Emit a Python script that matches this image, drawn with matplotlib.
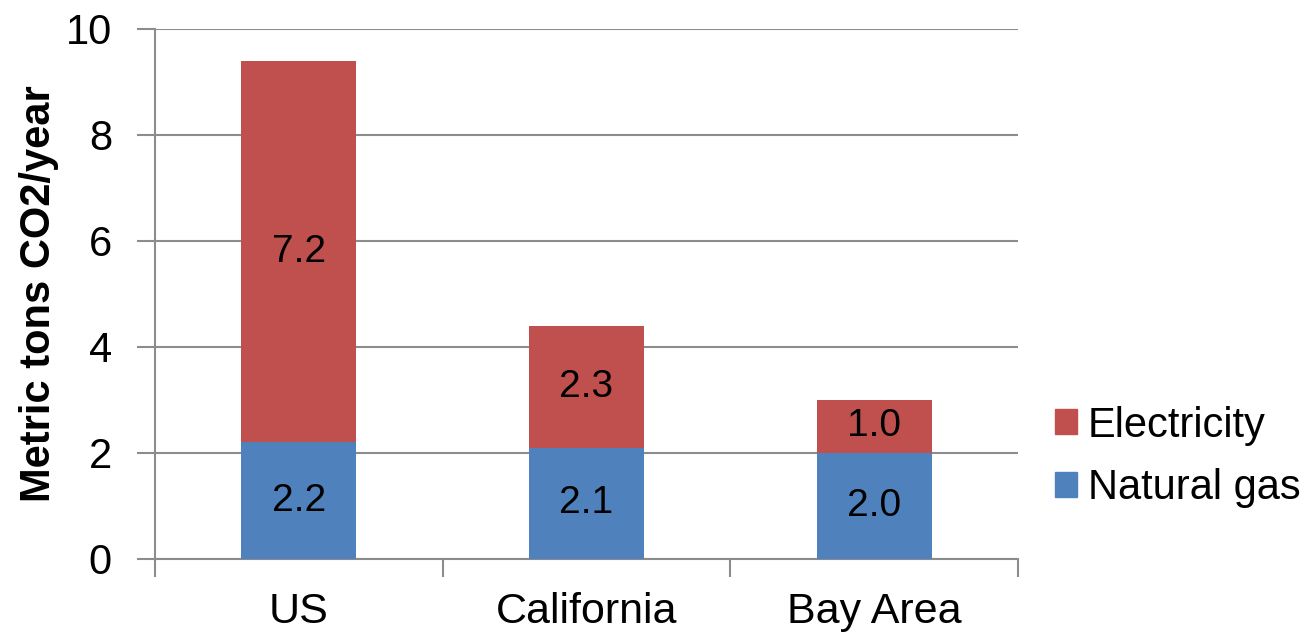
import matplotlib
matplotlib.use("Agg")
import matplotlib.pyplot as plt
from matplotlib.patches import Patch

plt.rcParams["font.family"] = ["Liberation Sans", "DejaVu Sans"]

# data
regions = ["US", "California", "Bay Area"]
natural_gas = [2.2, 2.1, 2.0]
electricity = [7.2, 2.3, 1.0]
gas_labels = ["2.2", "2.1", "2.0"]
elec_labels = ["7.2", "2.3", "1.0"]

blue = "#4F81BD"
red = "#C0504D"
grid_gray = "#8C8C8C"

fig = plt.figure(figsize=(13.16, 6.35), dpi=100)
ax = fig.add_axes([155 / 1316, 1 - 559 / 635, (1018 - 155) / 1316, (559 - 29) / 635])

x = list(range(len(regions)))
ax.bar(x, natural_gas, width=0.4, color=blue, zorder=3)
ax.bar(x, electricity, width=0.4, bottom=natural_gas, color=red, zorder=3)

for i in x:
    ax.text(i, natural_gas[i] / 2, gas_labels[i], ha="center", va="center",
            fontsize=28, zorder=4)
    ax.text(i, natural_gas[i] + electricity[i] / 2, elec_labels[i],
            ha="center", va="center", fontsize=28, zorder=4)

ax.set_xlim(-0.5, 2.5)
ax.set_ylim(0, 10)
ax.set_yticks([0, 2, 4, 6, 8, 10])
ax.yaxis.grid(True, color=grid_gray, linewidth=1.5, zorder=0)
ax.set_axisbelow(True)

# category ticks sit between groups, labels in the middle
ax.set_xticks([-0.5, 0.5, 1.5, 2.5])
ax.set_xticklabels([])
ax.set_xticks(x, minor=True)
ax.set_xticklabels(regions, minor=True)
ax.tick_params(axis="x", which="major", length=13, width=1.5, color=grid_gray)
ax.tick_params(axis="x", which="minor", length=0, labelsize=31, pad=24)
ax.tick_params(axis="y", length=13, width=1.5, color=grid_gray, labelsize=30, pad=18)

for s in ["top", "right"]:
    ax.spines[s].set_visible(False)
for s in ["left", "bottom"]:
    ax.spines[s].set_color(grid_gray)
    ax.spines[s].set_linewidth(1.5)

ax.set_ylabel("Metric tons CO2/year", fontsize=30, fontweight="bold", labelpad=5)

handles = [Patch(color=red, label="Electricity"), Patch(color=blue, label="Natural gas")]
fig.legend(handles=handles, loc="center left", bbox_to_anchor=(1017 / 1316, 1 - 457 / 635),
           frameon=False, fontsize=30, handlelength=0.55, handleheight=0.55,
           handletextpad=0.25, labelspacing=0.55)

fig.savefig("out.png", dpi=100)
